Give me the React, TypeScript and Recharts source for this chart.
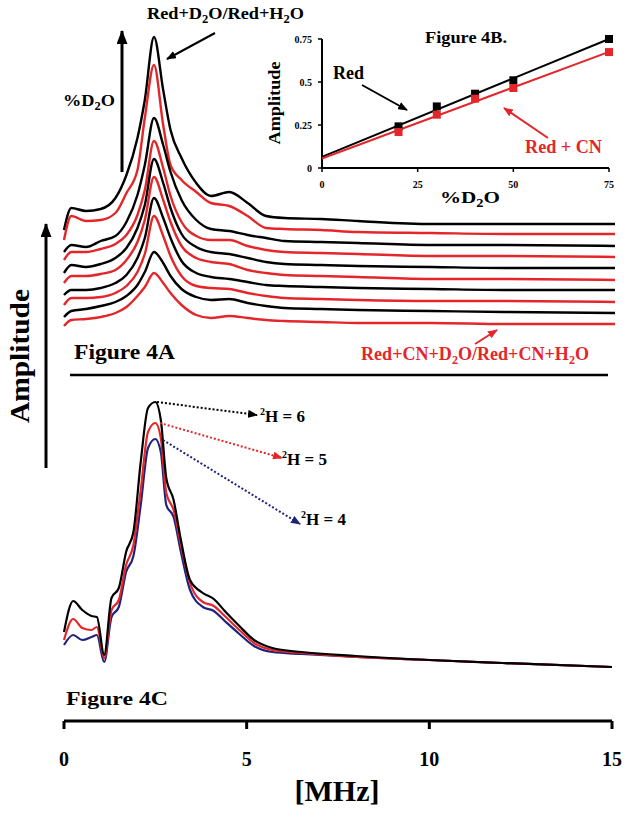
import React from 'react';
import { LineChart, Line, XAxis, YAxis, ScatterChart, Scatter, ZAxis } from 'recharts';

const SERIF = '"Liberation Serif", "Times New Roman", Times, serif';
const BLACK = '#000000';
const RED = '#e4262b';
const NAVY = '#20237a';

// ---- Figure 4A: ten stacked spectra, top to bottom (arbitrary amplitude units)
const MHZ_A = [0, 0.2, 0.6, 1.0, 1.4, 1.7, 2.0, 2.2, 2.45, 2.7, 2.9, 3.2, 3.6, 4.0, 4.5, 5.0, 5.5, 6.0, 7, 8, 10, 12, 15];
const A1 = [110, 132, 129, 131, 142, 165, 202, 240, 303, 250, 210, 182, 157, 144, 148, 137, 124, 122, 121, 119, 116, 116, 116];
const A2 = [100, 124, 119, 120, 127, 147, 170, 222, 275, 215, 175, 160, 148, 137, 134, 124, 112, 111, 110, 108, 107, 106, 106];
const A3 = [88, 95, 93, 99, 104, 118, 145, 175, 222, 195, 168, 140, 120, 111, 109, 105, 102, 99, 98, 97, 95, 95, 94];
const A4 = [80, 88, 88, 91, 96, 105, 125, 150, 199, 172, 144, 118, 104, 100, 100, 94, 90, 88, 87, 86, 84, 84, 83];
const A5 = [67, 75, 73, 76, 82, 92, 112, 135, 181, 157, 132, 106, 93, 88, 86, 82, 78, 76, 75, 74, 73, 72, 72];
const A6 = [57, 64, 64, 66, 70, 80, 98, 120, 163, 140, 118, 94, 82, 78, 76, 70, 67, 65, 64, 63, 61, 61, 60];
const A7 = [45, 50, 50, 52, 57, 65, 82, 102, 142, 122, 102, 79, 67, 63, 61, 58, 55, 54, 53, 52, 51, 50, 50];
const A8 = [35, 42, 42, 43, 47, 54, 68, 86, 124, 104, 84, 64, 54, 52, 51, 47, 44, 42, 41, 40, 39, 39, 38];
const A9 = [23, 29, 31, 34, 38, 44, 55, 68, 88, 77, 64, 51, 43, 40, 41, 37, 34, 32, 31, 30, 29, 28, 27];
const A10 = [14, 20, 21, 23, 27, 33, 44, 53, 67, 57, 47, 35, 25, 22, 24, 22, 20, 19, 18, 17, 17, 16, 16];
const TRACES_A = [A1, A2, A3, A4, A5, A6, A7, A8, A9, A10];

// ---- Figure 4B: amplitude vs %D2O
const PCT_D2O = [20, 30, 40, 50, 75];
const AMP_RED = [0.242, 0.358, 0.432, 0.51, 0.75];
const AMP_RED_CN = [0.209, 0.31, 0.403, 0.465, 0.674];
const FIT_X = [0, 75];
const FIT_RED = [0.065, 0.75];
const FIT_RED_CN = [0.055, 0.675];

// ---- Figure 4C: 2H = 6 / 5 / 4
const MHZ_C = [0, 0.25, 0.5, 0.75, 0.9, 1.1, 1.3, 1.5, 1.7, 1.9, 2.1, 2.3, 2.5, 2.65, 2.8, 3.0, 3.2, 3.45, 3.8, 4.1, 4.4, 4.8, 5.2, 5.7, 6.5, 8, 10, 12, 15];
const H6 = [35, 66, 57, 51, 50, 12, 69, 79, 115, 135, 205, 259, 265, 247, 189, 167, 127, 87, 74, 68, 56, 41, 27, 19, 15, 11, 7, 4, 0];
const H5 = [27, 48, 39, 37, 40, 9, 57, 67, 102, 122, 177, 235, 244, 229, 174, 157, 122, 84, 65, 61, 51, 37, 24, 17, 14, 10, 7, 4, 0];
const H4 = [22, 32, 27, 30, 32, 5, 50, 60, 95, 111, 162, 219, 228, 215, 162, 150, 115, 77, 60, 56, 46, 33, 21, 15, 13, 10, 7, 4, 0];
const MHZ_TICKS = [0, 5, 10, 15];

const dataA = MHZ_A.map((f, i) => {
  const row: Record<string, number> = { f };
  TRACES_A.forEach((t, k) => { row['t' + k] = t[i]; });
  return row;
});
const dataC = MHZ_C.map((f, i) => ({ f, h6: H6[i], h5: H5[i], h4: H4[i] }));
const pointsRed = PCT_D2O.map((x, i) => ({ x, y: AMP_RED[i] }));
const pointsRedCN = PCT_D2O.map((x, i) => ({ x, y: AMP_RED_CN[i] }));
const fitRed = FIT_X.map((x, i) => ({ x, y: FIT_RED[i] }));
const fitRedCN = FIT_X.map((x, i) => ({ x, y: FIT_RED_CN[i] }));

const NoDot = () => <g />;

const tickFont = (size: number) => ({ fill: BLACK, fontSize: size, fontWeight: 'bold', fontFamily: SERIF });

function Overlay() {
  const arrowDefs = [
    ['hk', BLACK], ['hr', RED], ['hn', NAVY],
  ];
  return (
    <svg width={631} height={817} style={{ position: 'absolute', left: 0, top: 0, pointerEvents: 'none' }}
      fontFamily={SERIF} fontWeight="bold">
      <defs>
        {arrowDefs.map(([id, c]) => (
          <marker key={id} id={id} markerUnits="userSpaceOnUse" markerWidth={10} markerHeight={8}
            refX={9} refY={4} orient="auto">
            <path d="M0,0 L10,4 L0,8 z" fill={c} />
          </marker>
        ))}
        <marker id="big" markerUnits="userSpaceOnUse" markerWidth={14} markerHeight={11}
          refX={13} refY={5.5} orient="auto">
          <path d="M0,0 L14,5.5 L0,11 z" fill={BLACK} />
        </marker>
      </defs>

      {/* big axis arrows */}
      <line x1={46} y1={468} x2={46} y2={224} stroke={BLACK} strokeWidth={3} markerEnd="url(#big)" />
      <text transform="translate(29,356) rotate(-90)" textAnchor="middle" fontSize={28} textLength={134}
        lengthAdjust="spacingAndGlyphs">Amplitude</text>
      <line x1={122} y1={172} x2={122} y2={31} stroke={BLACK} strokeWidth={3} markerEnd="url(#big)" />
      <text x={63} y={106} fontSize={17.5} textLength={52} lengthAdjust="spacingAndGlyphs">
        %D<tspan fontSize={12} dy={4}>2</tspan><tspan dy={-4}>O</tspan>
      </text>

      {/* figure 4A labels */}
      <text x={147} y={18.5} fontSize={17.5} textLength={157} lengthAdjust="spacingAndGlyphs">
        Red+D<tspan fontSize={12} dy={4}>2</tspan><tspan dy={-4}>O/Red+H</tspan>
        <tspan fontSize={12} dy={4}>2</tspan><tspan dy={-4}>O</tspan>
      </text>
      <line x1={215} y1={33} x2={167} y2={59} stroke={BLACK} strokeWidth={2} markerEnd="url(#hk)" />
      <text x={74} y={359} fontSize={20} textLength={101} lengthAdjust="spacingAndGlyphs">Figure 4A</text>
      <text x={361} y={360} fontSize={18} fill={RED} textLength={228} lengthAdjust="spacingAndGlyphs">
        Red+CN+D<tspan fontSize={12} dy={4}>2</tspan><tspan dy={-4}>O/Red+CN+H</tspan>
        <tspan fontSize={12} dy={4}>2</tspan><tspan dy={-4}>O</tspan>
      </text>
      <line x1={475} y1={344} x2={497} y2={330} stroke={RED} strokeWidth={2} markerEnd="url(#hr)" />
      <line x1={70} y1={375} x2={608} y2={375} stroke={BLACK} strokeWidth={2.5} />

      {/* figure 4B labels */}
      <text x={466} y={43} fontSize={16} textAnchor="middle" textLength={82} lengthAdjust="spacingAndGlyphs">Figure 4B.</text>
      <text transform="translate(280,103) rotate(-90)" textAnchor="middle" fontSize={16} textLength={83}
        lengthAdjust="spacingAndGlyphs">Amplitude</text>
      <text x={440} y={203} fontSize={17.5} textLength={60} lengthAdjust="spacingAndGlyphs">
        %D<tspan fontSize={12} dy={4}>2</tspan><tspan dy={-4}>O</tspan>
      </text>
      <text x={333} y={79} fontSize={18}>Red</text>
      <line x1={362} y1={85} x2={407} y2={110} stroke={BLACK} strokeWidth={2} markerEnd="url(#hk)" />
      <text x={525} y={153} fontSize={18.5} fill={RED} textLength={77} lengthAdjust="spacingAndGlyphs">Red + CN</text>
      <line x1={548} y1={138} x2={504} y2={108} stroke={RED} strokeWidth={2} markerEnd="url(#hr)" />

      {/* figure 4C labels */}
      <line x1={157} y1={402} x2={257} y2={415} stroke={BLACK} strokeWidth={2} strokeDasharray="2 2" markerEnd="url(#hk)" />
      <line x1={160} y1={423} x2={282} y2={458} stroke={RED} strokeWidth={2} strokeDasharray="2 2" markerEnd="url(#hr)" />
      <line x1={163} y1={440} x2={300} y2={524} stroke={NAVY} strokeWidth={2} strokeDasharray="2 2" markerEnd="url(#hn)" />
      <text x={260} y={422} fontSize={17}><tspan fontSize={10} dy={-7}>2</tspan><tspan dy={7}>H = 6</tspan></text>
      <text x={282} y={465} fontSize={17}><tspan fontSize={10} dy={-7}>2</tspan><tspan dy={7}>H = 5</tspan></text>
      <text x={301} y={525} fontSize={17}><tspan fontSize={10} dy={-7}>2</tspan><tspan dy={7}>H = 4</tspan></text>
      <text x={66} y={705} fontSize={19} textLength={102} lengthAdjust="spacingAndGlyphs">Figure 4C</text>
      <text x={337} y={801} fontSize={30} textAnchor="middle">[MHz]</text>
    </svg>
  );
}

export default function App() {
  const colorsA = TRACES_A.map((_, k) => (k % 2 === 0 ? BLACK : RED));
  return (
    <div style={{ position: 'absolute', left: 0, top: 0, width: 631, height: 817, background: '#fff' }}>
      {/* Figure 4A */}
      <div style={{ position: 'absolute', left: 0, top: 30 }}>
        <LineChart width={631} height={310} data={dataA} margin={{ top: 0, right: 16, bottom: 0, left: 64 }}>
          <XAxis hide dataKey="f" type="number" domain={[0, 15]} />
          <YAxis hide domain={[0, 310]} />
          {TRACES_A.map((_, k) => (
            <Line key={k} dataKey={'t' + k} type="monotone" stroke={colorsA[k]} strokeWidth={2.4}
              dot={false} isAnimationActive={false} />
          ))}
        </LineChart>
      </div>

      {/* Figure 4B inset */}
      <div style={{ position: 'absolute', left: 260, top: 20 }}>
        <ScatterChart width={360} height={200} margin={{ top: 19, right: 11, bottom: 0, left: 0 }}>
          <XAxis type="number" dataKey="x" domain={[0, 75]} ticks={[0, 25, 50, 75]} height={52}
            tickSize={4} tickMargin={9} interval={0}
            axisLine={{ stroke: BLACK, strokeWidth: 2 }} tickLine={{ stroke: BLACK, strokeWidth: 1.5 }}
            tick={tickFont(10)} />
          <YAxis type="number" dataKey="y" domain={[0, 0.75]} ticks={[0, 0.25, 0.5, 0.75]} width={62}
            tickSize={4} tickMargin={6} interval={0}
            axisLine={{ stroke: BLACK, strokeWidth: 2 }} tickLine={{ stroke: BLACK, strokeWidth: 1.5 }}
            tick={tickFont(10)} tickFormatter={(v: number) => String(v)} />
          <ZAxis range={[70, 70]} />
          <Scatter data={fitRed} line={{ stroke: BLACK, strokeWidth: 2 }} shape={NoDot} fill={BLACK}
            isAnimationActive={false} />
          <Scatter data={fitRedCN} line={{ stroke: RED, strokeWidth: 2 }} shape={NoDot} fill={RED}
            isAnimationActive={false} />
          <Scatter data={pointsRed} shape="square" fill={BLACK} isAnimationActive={false} />
          <Scatter data={pointsRedCN} shape="square" fill={RED} isAnimationActive={false} />
        </ScatterChart>
      </div>

      {/* Figure 4C */}
      <div style={{ position: 'absolute', left: 0, top: 390 }}>
        <LineChart width={631} height={421} data={dataC} margin={{ top: 0, right: 19, bottom: 0, left: 64 }}>
          <XAxis dataKey="f" type="number" domain={[0, 15]} ticks={MHZ_TICKS} height={90} interval={0}
            tickSize={8} tickMargin={23}
            axisLine={{ stroke: BLACK, strokeWidth: 3 }} tickLine={{ stroke: BLACK, strokeWidth: 3 }}
            tick={tickFont(20)} />
          <YAxis hide domain={[-54, 277]} />
          <Line dataKey="h4" type="monotone" stroke={NAVY} strokeWidth={2.2} dot={false} isAnimationActive={false} />
          <Line dataKey="h5" type="monotone" stroke={RED} strokeWidth={2.2} dot={false} isAnimationActive={false} />
          <Line dataKey="h6" type="monotone" stroke={BLACK} strokeWidth={2.2} dot={false} isAnimationActive={false} />
        </LineChart>
      </div>

      <Overlay />
    </div>
  );
}
